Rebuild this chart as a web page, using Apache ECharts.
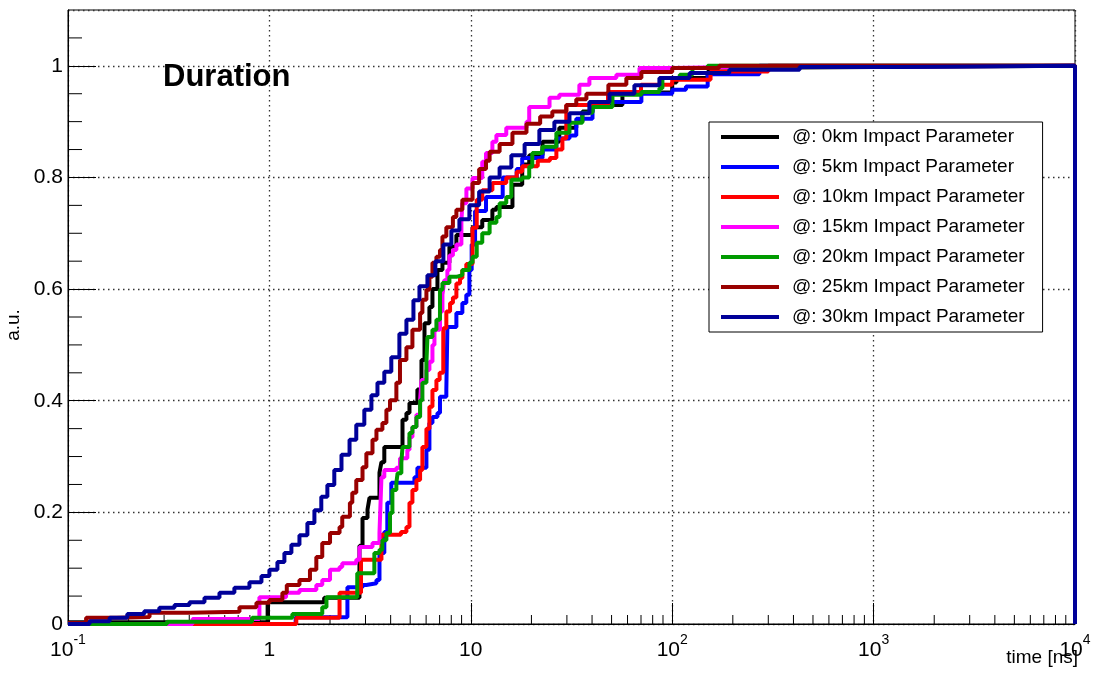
<!DOCTYPE html>
<html>
<head>
<meta charset="utf-8">
<script src="https://cdn.jsdelivr.net/npm/echarts@6/dist/echarts.min.js"></script>
<style>html,body{margin:0;padding:0;background:#fff}#c{width:1093px;height:677px}</style>
</head>
<body>
<div id="c"></div>
<script>
const FONT = '"Liberation Sans", Arial, Helvetica, sans-serif';

const seriesNames = [
  '@: 0km Impact Parameter', '@: 5km Impact Parameter', '@: 10km Impact Parameter',
  '@: 15km Impact Parameter', '@: 20km Impact Parameter', '@: 25km Impact Parameter',
  '@: 30km Impact Parameter'
];
const seriesColors = ['#000000', '#0000ff', '#ff0000', '#ff00ff', '#009a00', '#990000', '#000099'];

// cumulative fraction vs time [ns]; each point = (time where the step happens, new value)
const ip0km = [[0.1,0.003],[0.98,0.039],[1.87,0.047],[2.8,0.14],[2.9,0.19],[3.07,0.205],[3.14,0.226],[3.52,0.271],[3.6,0.29],[3.72,0.317],[4.58,0.366],[4.79,0.378],[4.96,0.396],[5.43,0.42],[5.69,0.473],[5.89,0.539],[6.23,0.568],[6.45,0.6],[6.83,0.634],[7.23,0.647],[7.83,0.676],[8.48,0.697],[10.2,0.711],[11.4,0.724],[12.8,0.742],[13.4,0.747],[16.1,0.787],[18.0,0.823],[19.5,0.84],[22.7,0.864],[27.5,0.889],[33.4,0.9],[35.8,0.918],[40.2,0.93],[56.6,0.952],[100,0.97],[105,0.978],[150,0.99],[216,0.997],[400,1.0],[10000,0]];
const ip5km = [[0.1,0.0],[1.35,0.012],[2.44,0.066],[2.9,0.07],[3.03,0.073],[3.4,0.079],[3.52,0.127],[3.72,0.165],[3.85,0.217],[4.03,0.253],[5.25,0.263],[5.43,0.28],[6.02,0.312],[6.23,0.36],[6.45,0.371],[6.83,0.378],[7.03,0.407],[7.56,0.419],[7.65,0.532],[8.48,0.557],[9.08,0.575],[9.5,0.59],[9.84,0.634],[10.1,0.68],[10.5,0.74],[11.9,0.765],[14.4,0.8],[16.9,0.815],[18.0,0.835],[22.7,0.85],[26.6,0.87],[30.9,0.875],[33.4,0.905],[40.2,0.93],[48.2,0.935],[70.3,0.95],[100,0.957],[117,0.963],[150,0.985],[271,1.0],[10000,0]];
const ip10km = [[0.1,0.0],[1.36,0.011],[2.23,0.056],[2.85,0.115],[3.6,0.16],[4.5,0.165],[4.79,0.174],[4.96,0.217],[5.13,0.24],[5.37,0.258],[5.6,0.276],[5.75,0.317],[6.02,0.35],[6.23,0.389],[6.45,0.419],[6.75,0.437],[7.0,0.45],[7.3,0.53],[7.56,0.56],[7.89,0.575],[8.15,0.585],[8.48,0.61],[8.84,0.62],[9.08,0.634],[9.5,0.645],[10.2,0.71],[10.7,0.76],[11.4,0.777],[12.8,0.79],[15.0,0.8],[16.9,0.81],[18.0,0.82],[21.5,0.83],[24.7,0.835],[26.6,0.85],[28.5,0.87],[29.8,0.93],[48,0.953],[70,0.966],[100,0.975],[155,0.99],[300,1.0],[10000,0]];
const ip15km = [[0.1,0.0],[0.415,0.009],[0.892,0.048],[1.21,0.056],[1.41,0.061],[1.71,0.07],[1.83,0.079],[2.0,0.097],[2.23,0.102],[2.3,0.109],[2.7,0.115],[2.8,0.138],[3.25,0.145],[3.52,0.163],[3.6,0.263],[3.72,0.276],[4.27,0.28],[4.45,0.297],[4.84,0.312],[4.96,0.335],[5.13,0.353],[5.37,0.375],[5.6,0.4],[5.69,0.437],[6.02,0.455],[6.23,0.47],[6.45,0.5],[6.6,0.527],[7.03,0.56],[7.23,0.59],[7.39,0.616],[7.65,0.634],[7.83,0.66],[8.15,0.67],[8.48,0.68],[8.98,0.72],[9.08,0.754],[9.51,0.78],[10.2,0.799],[11.4,0.828],[11.9,0.844],[12.8,0.864],[13.4,0.876],[15.0,0.889],[18.9,0.9],[19.5,0.926],[24.6,0.943],[27.5,0.948],[34.6,0.966],[38.8,0.978],[52.8,0.984],[68.8,0.996],[100,0.998],[200,1.0],[10000,0]];
const ip20km = [[0.1,0.0],[0.31,0.004],[0.82,0.011],[1.3,0.018],[1.83,0.03],[1.92,0.048],[2.73,0.091],[3.32,0.127],[3.52,0.133],[3.64,0.15],[3.81,0.163],[3.97,0.199],[4.08,0.24],[4.27,0.253],[4.33,0.27],[4.52,0.289],[4.58,0.317],[4.96,0.342],[5.13,0.353],[5.37,0.371],[5.6,0.401],[5.75,0.432],[6.02,0.468],[6.09,0.514],[6.45,0.527],[6.75,0.545],[7.03,0.599],[7.23,0.611],[7.83,0.622],[8.48,0.625],[9.08,0.634],[9.84,0.647],[10.2,0.658],[10.7,0.683],[11.4,0.7],[12.4,0.719],[13.4,0.729],[13.9,0.754],[15.0,0.765],[15.9,0.796],[18.0,0.8],[19.5,0.819],[20.2,0.844],[22.7,0.855],[26.6,0.88],[30.9,0.898],[35.8,0.916],[40.2,0.926],[50.5,0.948],[70.3,0.953],[86.4,0.96],[89.4,0.978],[109,0.984],[126,0.996],[150,1.0],[10000,0]];
const ip25km = [[0.1,0.002],[0.123,0.011],[0.174,0.0125],[0.254,0.02],[0.4,0.022],[0.71,0.03],[0.862,0.038],[1.0,0.043],[1.16,0.056],[1.22,0.07],[1.41,0.079],[1.59,0.097],[1.71,0.12],[1.83,0.145],[2.0,0.163],[2.23,0.174],[2.3,0.192],[2.51,0.217],[2.58,0.235],[2.7,0.258],[2.9,0.281],[3.03,0.306],[3.25,0.33],[3.4,0.348],[3.64,0.36],[3.81,0.384],[3.97,0.401],[4.27,0.432],[4.45,0.473],[4.79,0.496],[5.13,0.527],[5.6,0.557],[5.75,0.581],[6.02,0.599],[6.23,0.622],[6.45,0.647],[6.75,0.658],[7.03,0.67],[7.23,0.694],[7.56,0.711],[8.15,0.729],[8.48,0.742],[9.08,0.76],[10.2,0.79],[11.0,0.815],[11.9,0.83],[12.4,0.846],[13.9,0.86],[16.1,0.88],[18.9,0.896],[22.1,0.909],[25.4,0.918],[29.8,0.93],[33.4,0.94],[37.5,0.95],[48.2,0.966],[59.2,0.978],[70.3,0.989],[100,0.996],[171,1.0],[10000,0]];
const ip30km = [[0.1,0.0],[0.128,0.005],[0.161,0.011],[0.197,0.018],[0.239,0.023],[0.284,0.029],[0.338,0.034],[0.401,0.039],[0.476,0.047],[0.565,0.056],[0.67,0.065],[0.796,0.075],[0.913,0.086],[1.0,0.097],[1.096,0.111],[1.187,0.127],[1.286,0.142],[1.41,0.159],[1.544,0.181],[1.673,0.204],[1.81,0.228],[1.94,0.249],[2.1,0.276],[2.28,0.303],[2.5,0.33],[2.7,0.357],[2.96,0.384],[3.21,0.41],[3.44,0.432],[3.72,0.452],[4.03,0.478],[4.42,0.52],[4.79,0.545],[5.19,0.58],[5.56,0.605],[6.09,0.625],[6.67,0.65],[7.31,0.68],[8.01,0.705],[8.78,0.725],[9.84,0.75],[11.0,0.775],[12.4,0.8],[13.9,0.818],[15.9,0.84],[18.5,0.86],[21.9,0.885],[26.0,0.9],[30.9,0.915],[38.8,0.935],[48.8,0.95],[64.9,0.965],[86.4,0.978],[122,0.987],[192,0.993],[429,0.998],[1343,1.0],[10000,0]];
const seriesData = [ip0km, ip5km, ip10km, ip15km, ip20km, ip25km, ip30km];

// axis ticks
const xMinorTicks = [0.2,0.3,0.4,0.5,0.6,0.7,0.8,0.9, 2,3,4,5,6,7,8,9, 20,30,40,50,60,70,80,90, 200,300,400,500,600,700,800,900, 2000,3000,4000,5000,6000,7000,8000,9000];
const yMinorTicks = [0.05,0.1,0.15,0.25,0.3,0.35,0.45,0.5,0.55,0.65,0.7,0.75,0.85,0.9,0.95,1.05];

const chart = echarts.init(document.getElementById('c'), null, {renderer: 'canvas'});

const lineSeries = seriesNames.map((name, i) => ({
  name: name,
  type: 'line',
  step: 'end',
  data: seriesData[i],
  symbol: 'none',
  color: seriesColors[i],
  lineStyle: {color: seriesColors[i], width: 4},
  clip: false,
  silent: true,
  z: 3 + i
}));

const gridDot = {color: '#333', width: 1.3, type: [1.5, 3.5]};

chart.setOption({
  animation: false,
  backgroundColor: '#fff',
  textStyle: {fontFamily: FONT},
  title: {
    text: 'Duration', left: 163, top: 62, padding: 0,
    textStyle: {fontSize: 31, fontWeight: 'bold', color: '#000', fontFamily: FONT}
  },
  legend: {
    data: seriesNames,
    orient: 'vertical',
    left: 709, top: 122,
    padding: [5, 18, 5, 12],
    itemGap: 10,
    itemWidth: 58, itemHeight: 4,
    icon: 'rect',
    backgroundColor: '#fff',
    borderColor: '#000', borderWidth: 1, borderRadius: 0,
    textStyle: {fontSize: 19, lineHeight: 20, color: '#000', fontFamily: FONT, padding: [0, 0, 0, 8]},
    selectedMode: false
  },
  grid: {left: 68, right: 18, top: 10, bottom: 53, containLabel: false, outerBoundsMode: 'none',
         show: true, borderColor: '#000', borderWidth: 1, backgroundColor: 'transparent'},
  graphic: [{
    type: 'text', right: 15, top: 648, silent: true,
    style: {text: 'time [ns]', fontSize: 19, fill: '#000', fontFamily: FONT}
  }],
  xAxis: {
    type: 'log', logBase: 10, min: 0.1, max: 10000, splitNumber: 5,
    axisLine: {show: true, lineStyle: {color: '#000', width: 1}},
    axisTick: {show: true, inside: true, length: 21, lineStyle: {color: '#000', width: 1}},
    minorTick: {show: false},
    splitLine: {show: true, lineStyle: gridDot},
    axisLabel: {
      color: '#000', margin: 9, fontFamily: FONT,
      formatter: function (v) {
        const e = Math.round(Math.log10(v));
        if (e === 0) return '{b|1}';
        if (e === 1) return '{b|10}';
        return '{b|10}{s|' + e + '}';
      },
      rich: {
        b: {fontSize: 21, lineHeight: 28, verticalAlign: 'bottom', color: '#000', fontFamily: FONT},
        s: {fontSize: 14, lineHeight: 14, verticalAlign: 'top', color: '#000', fontFamily: FONT}
      }
    }
  },
  yAxis: {
    type: 'value', min: 0, max: 1.1, interval: 0.2,
    name: 'a.u.', nameLocation: 'middle', nameGap: 38,
    nameTextStyle: {fontSize: 19, color: '#000', fontFamily: FONT, padding: [0, 16, 0, 0]},
    axisLine: {show: true, lineStyle: {color: '#000', width: 1}},
    axisTick: {show: true, inside: true, length: 28, lineStyle: {color: '#000', width: 1}},
    minorTick: {show: false},
    splitLine: {show: true, lineStyle: gridDot},
    axisLabel: {color: '#000', fontSize: 21, margin: 5, showMaxLabel: false, fontFamily: FONT}
  },
  series: [
    {
      type: 'custom', name: 'xminor', silent: true, clip: false, z: 2,
      data: xMinorTicks.map(v => [v, 0]),
      renderItem: function (params, api) {
        const p = api.coord([api.value(0), 0]);
        return {type: 'line', shape: {x1: p[0], y1: p[1], x2: p[0], y2: p[1] - 9}, style: {stroke: '#000', lineWidth: 1}};
      }
    },
    {
      type: 'custom', name: 'yminor', silent: true, clip: false, z: 2,
      data: yMinorTicks.map(v => [0.1, v]),
      renderItem: function (params, api) {
        const p = api.coord([0.1, api.value(1)]);
        return {type: 'line', shape: {x1: p[0], y1: p[1], x2: p[0] + 14, y2: p[1]}, style: {stroke: '#000', lineWidth: 1}};
      }
    }
  ].concat(lineSeries)
});
</script>
</body>
</html>
